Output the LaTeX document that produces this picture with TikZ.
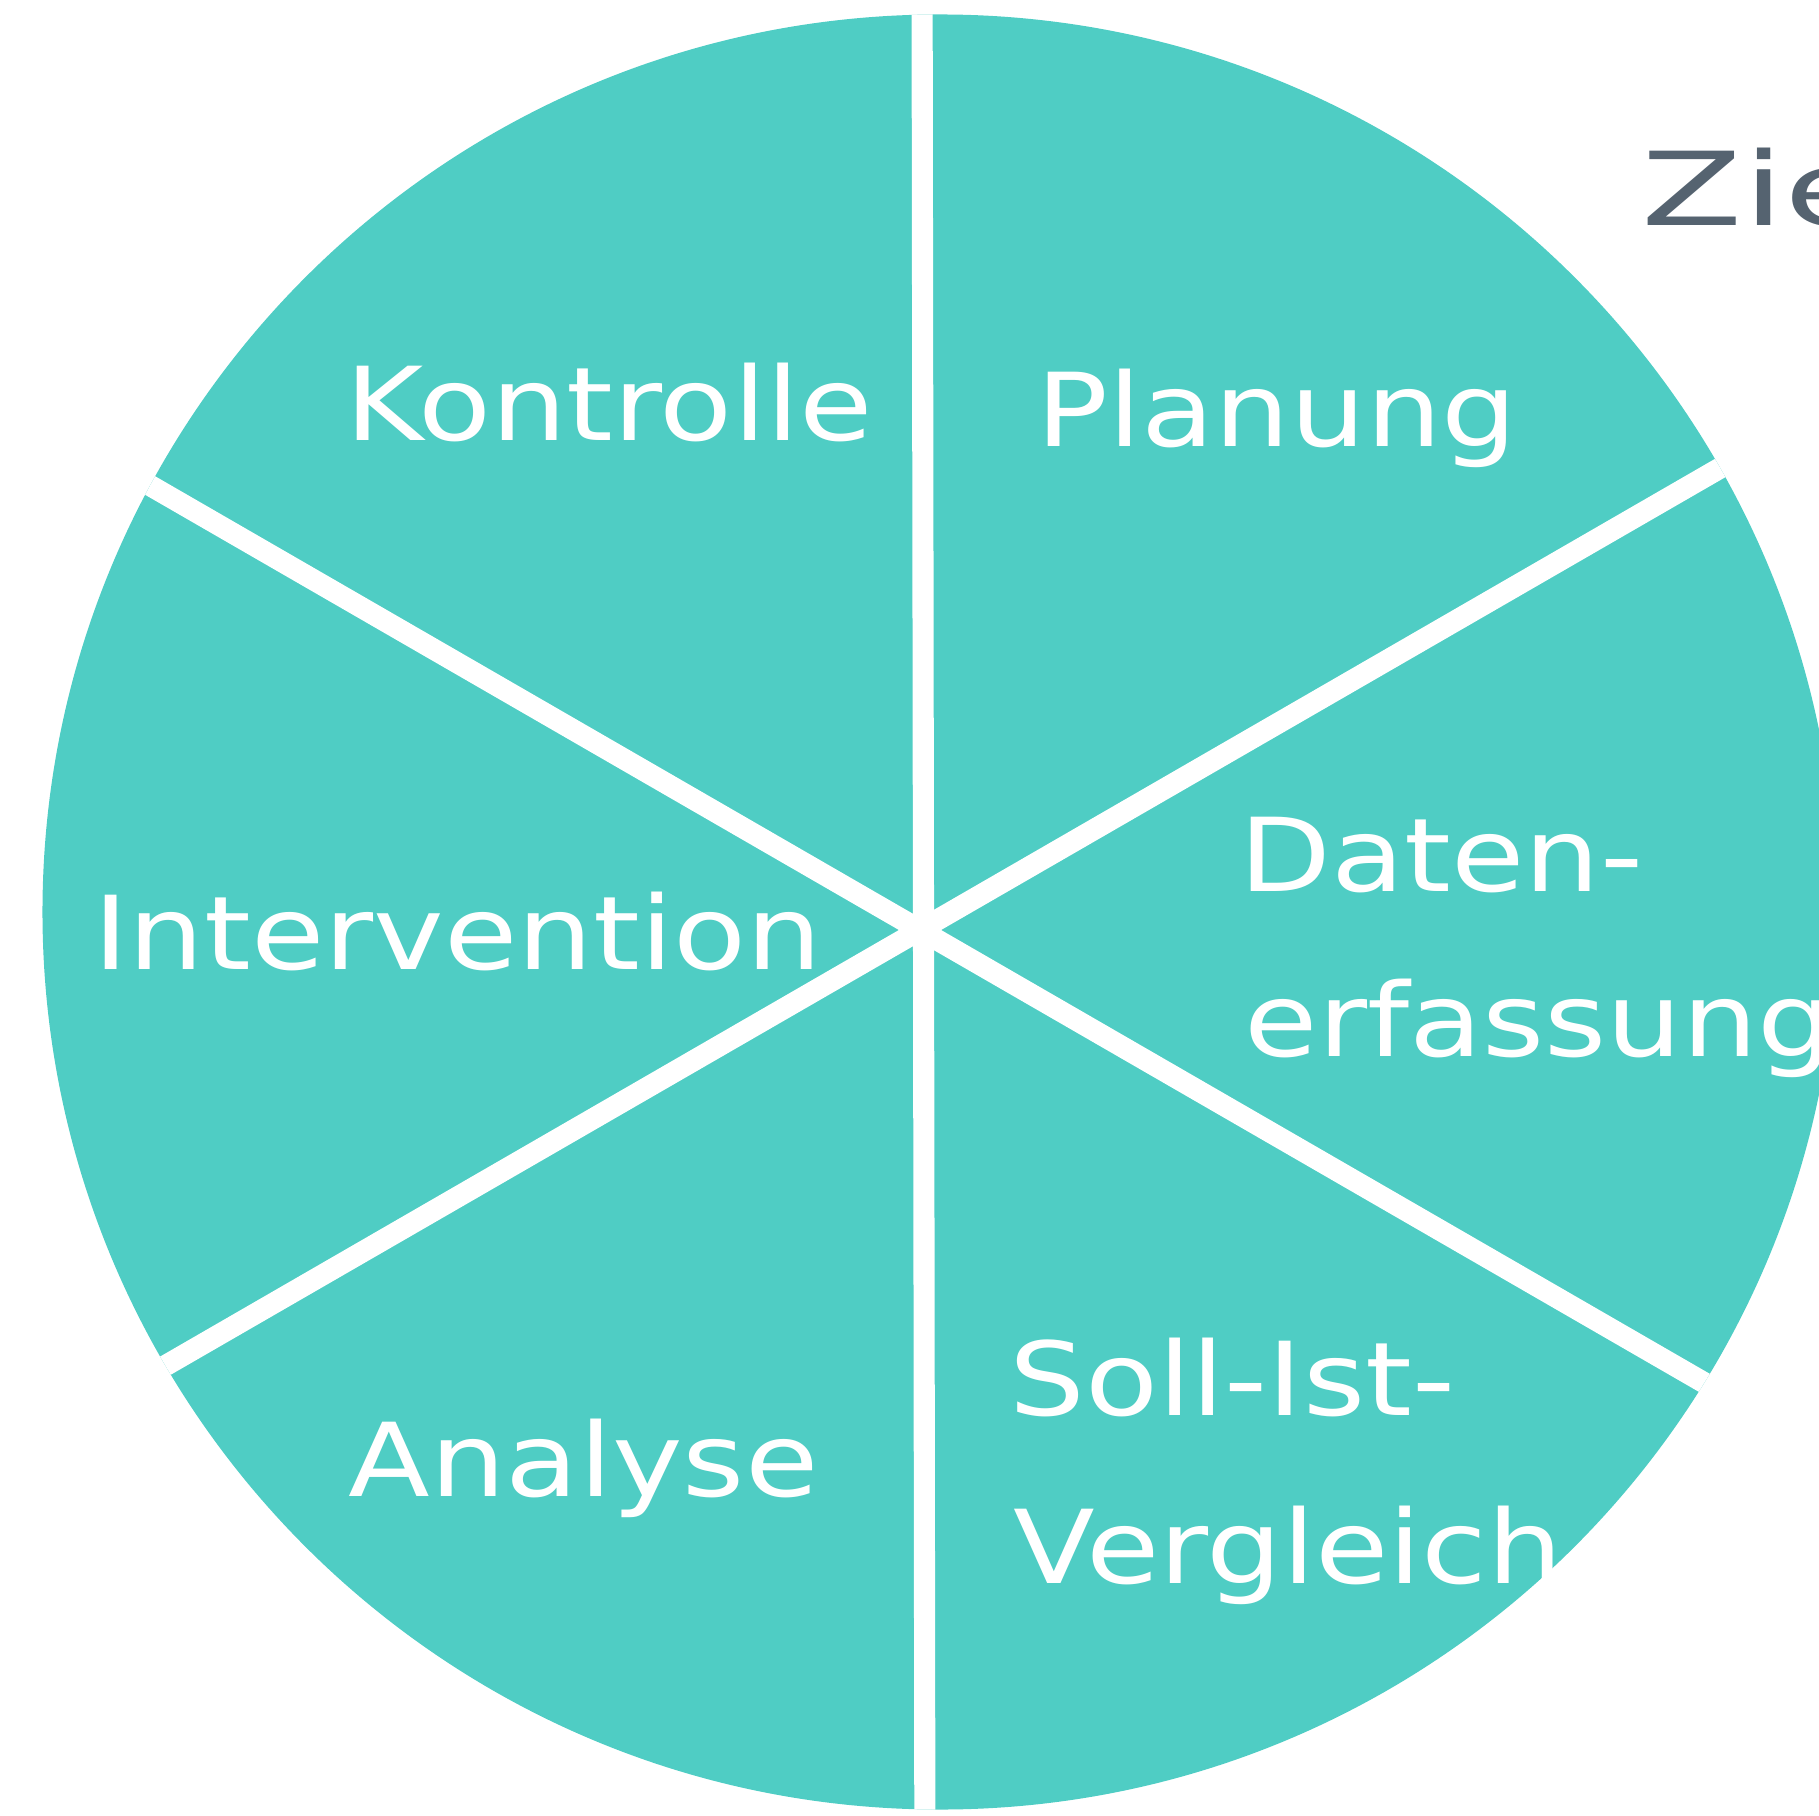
\documentclass[tikz,border=0pt]{standalone}
\usepackage{fontspec}
\setmainfont{DejaVu Sans}[FakeStretch=1.17]
\newfontfamily\zielfont{DejaVu Sans}[FakeStretch=1.45]
\usepackage{tikz}
\usetikzlibrary{positioning,calc}
\usepackage{xcolor}
\definecolor{tq}{RGB}{79,205,196}
\definecolor{tqr}{RGB}{255,255,255}
\definecolor{dg}{RGB}{85,99,112}
\tikzset{
  lab/.style={anchor=base west,inner sep=0pt,text=white,
    font=\fontsize{29}{40}\selectfont},
  spoke/.style={line width=6pt,draw=tqr,line cap=round},
}
\begin{document}
\begin{tikzpicture}[x=0.01cm,y=-0.01cm]
  \useasboundingbox (0,0) rectangle (1819,1816);
  \clip (0,0) rectangle (1819,1816);
  \coordinate (c) at (940,912);
  \coordinate (x) at (920,930);
  \fill[tq] (c) circle[radius=8.97cm];
  \begin{scope}
    \clip (c) circle[radius=8.97cm];
    \draw[spoke] ($(x)+(2,-1000)$) -- ($(x)+(5,1000)$);
    \draw[spoke] ($(x)+(150:10cm)$) -- ($(x)+(-30:10cm)$);
    \draw[spoke] ($(x)+(210:10cm)$) -- ($(x)+(30:10cm)$);
  \end{scope}
  \node[lab] (kon) at (345,441) {Kontrolle};
  \node[lab] (pla) at (1036,447) {Planung};
  \node[lab] (int) at (93,969) {Intervention};
  \node[lab] (dat) at (1239,891) {Daten-};
  \node[lab] (erf) at (1244,1056) {erfassung};
  \node[lab] (soll) at (1009,1415) {Soll-Ist-};
  \node[lab] (ver) at (1013,1583) {Vergleich};
  \node[lab] (ana) at (348,1496) {Analyse};
  \node[lab,text=dg,font=\fontsize{29}{40}\zielfont] (ziel) at (1641,226) {Ziel};
\end{tikzpicture}
\end{document}
